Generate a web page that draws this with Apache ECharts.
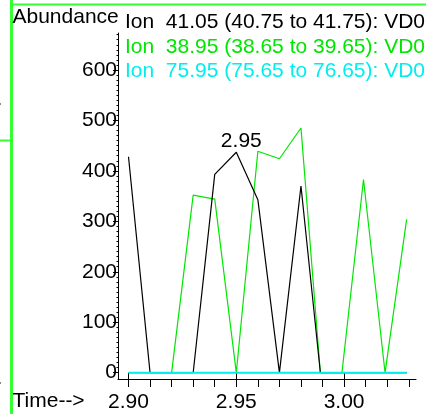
<!DOCTYPE html>
<html><head><meta charset="utf-8">
<script src="https://cdn.jsdelivr.net/npm/echarts@6/dist/echarts.min.js"></script>
<style>html,body{margin:0;padding:0;background:#fff}#c{width:426px;height:414px}</style>
</head><body><div id="c"></div>
<script>
var times = [2.900, 2.910, 2.920, 2.930, 2.940, 2.950, 2.960, 2.970, 2.980, 2.989, 2.999, 3.009, 3.019, 3.029];
var ion41 = [428, 0, 0, 0, 393, 437, 343, 0, 370, 0, 0, 0, 0, 0];
var ion39 = [0, 0, 0, 352, 344, 0, 439, 424, 485, 0, 0, 383, 0, 304];
var ion76 = [0, 0, 0, 0, 0, 0, 0, 0, 0, 0, 0, 0, 0, 0];
var seriesNames = ['Ion  41.05 (40.75 to 41.75): VD0', 'Ion  38.95 (38.65 to 39.65): VD0', 'Ion  75.95 (75.65 to 76.65): VD0'];
var seriesColors = ['#000000', '#00e600', '#00eeee'];
var yTickValues = [0, 100, 200, 300, 400, 500, 600];
var xTickValues = [2.90, 2.91, 2.92, 2.93, 2.94, 2.95, 2.96, 2.97, 2.98, 2.99, 3.00, 3.01, 3.02, 3.03];
var xLabelValues = [2.90, 2.95, 3.00];
var peakIndex = 5;
var peakLabel = '2.95';
var yAxisTitle = 'Abundance';
var xAxisTitle = 'Time-->';

var FONT = 'Liberation Sans';
var FS = 21;
var yMinor = [];
for (var v = 10; v <= 670; v += 10) { if (v % 100 !== 0) yMinor.push(v); }

function pairs(arr) { return arr.map(function (v, i) { return [times[i], v]; }); }

var chart = echarts.init(document.getElementById('c'), null, {renderer: 'canvas'});

chart.setOption({
  animation: false,
  backgroundColor: '#fff',
  grid: {left: 118, right: 10, top: 33, bottom: 35, containLabel: false},
  legend: {
    orient: 'vertical', left: 115, top: 7, icon: 'none', itemWidth: 0, itemHeight: 14, itemGap: 3.5,
    selectedMode: false,
    textStyle: {fontFamily: FONT, fontSize: FS, lineHeight: 21, padding: 0},
    data: seriesNames.map(function (n, i) { return {name: n, textStyle: {color: seriesColors[i]}}; })
  },
  xAxis: [{
    type: 'value', min: 2.89513, max: 3.03335,
    axisLine: {show: true, onZero: false, lineStyle: {color: '#000', width: 1}},
    axisTick: {show: true, length: 8, customValues: xTickValues, lineStyle: {color: '#000'}},
    axisLabel: {show: true, customValues: xLabelValues, margin: 12.5, color: '#000', fontFamily: FONT, fontSize: FS,
      formatter: function (v) { return v.toFixed(2); }},
    splitLine: {show: false}
  }, {
    type: 'value', min: 2.89513, max: 3.03335, position: 'bottom',
    axisLine: {show: false},
    axisTick: {show: true, length: 10, customValues: xLabelValues, lineStyle: {color: '#000'}},
    axisLabel: {show: false},
    splitLine: {show: false}
  }],
  yAxis: [{
    type: 'value', min: -12.5, max: 673.3,
    axisLine: {show: true, onZero: false, lineStyle: {color: '#000', width: 1}},
    axisTick: {show: true, length: 5, customValues: yTickValues, lineStyle: {color: '#000'}},
    axisLabel: {show: true, customValues: yTickValues, margin: 1, color: '#000', fontFamily: FONT, fontSize: FS},
    splitLine: {show: false}
  }, {
    type: 'value', min: -12.5, max: 673.3, position: 'left',
    axisLine: {show: false},
    axisTick: {show: true, length: 1.5, customValues: yMinor, lineStyle: {color: '#000'}},
    axisLabel: {show: false},
    splitLine: {show: false}
  }],
  graphic: [
    {type: 'line', shape: {x1: 11.5, y1: 0, x2: 11.5, y2: 414}, style: {stroke: '#33ff33', lineWidth: 3}, silent: true},
    {type: 'line', shape: {x1: 11, y1: 4.5, x2: 426, y2: 4.5}, style: {stroke: '#33ff33', lineWidth: 2}, silent: true},
    {type: 'line', shape: {x1: 0, y1: 140.5, x2: 11, y2: 140.5}, style: {stroke: '#33ff33', lineWidth: 2}, silent: true},
    {type: 'rect', shape: {x: 0, y: 103, width: 1, height: 2}, style: {fill: '#888'}, silent: true},
    {type: 'rect', shape: {x: 0, y: 382, width: 1, height: 2}, style: {fill: '#888'}, silent: true},
    {type: 'text', left: 12.5, top: 7, style: {text: yAxisTitle, fill: '#000', font: FS + 'px "' + FONT + '"'}},
    {type: 'text', left: 12.5, top: 391, style: {text: xAxisTitle, fill: '#000', font: FS + 'px "' + FONT + '"'}}
  ],
  series: [
    {name: seriesNames[0], type: 'line', data: pairs(ion41), symbol: 'none', z: 3,
      lineStyle: {color: seriesColors[0], width: 1.2}, itemStyle: {color: seriesColors[0]},
      markPoint: {
        symbol: 'circle', symbolSize: 0, silent: true,
        label: {show: true, position: 'top', distance: 1, offset: [5, 0], color: '#000', fontFamily: FONT, fontSize: FS},
        data: [{coord: [times[peakIndex], ion41[peakIndex]], value: peakLabel,
          label: {formatter: peakLabel}}]
      }},
    {name: seriesNames[1], type: 'line', data: pairs(ion39), symbol: 'none', z: 2,
      lineStyle: {color: seriesColors[1], width: 1.2}, itemStyle: {color: seriesColors[1]}},
    {name: seriesNames[2], type: 'line', data: pairs(ion76), symbol: 'none', z: 4,
      lineStyle: {color: seriesColors[2], width: 2}, itemStyle: {color: seriesColors[2]}}
  ]
});
</script>
</body></html>
